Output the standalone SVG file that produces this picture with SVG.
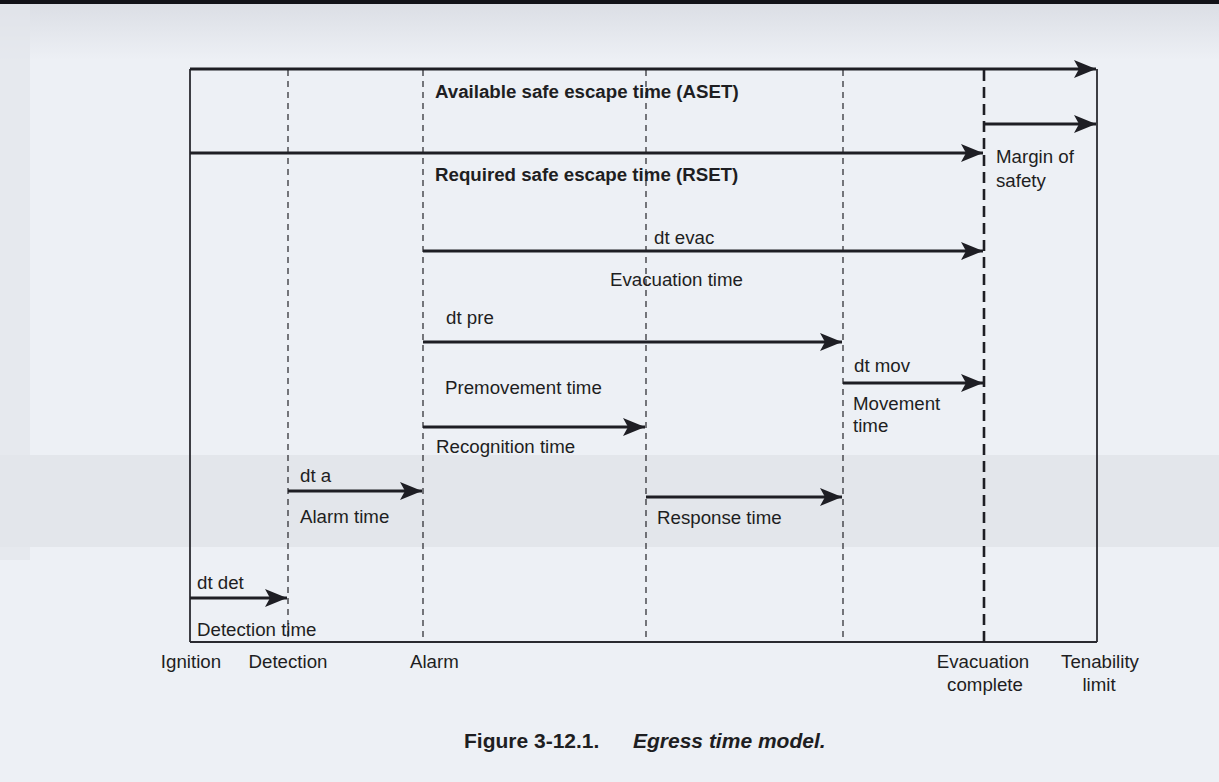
<svg xmlns="http://www.w3.org/2000/svg" width="1219" height="782" viewBox="0 0 1219 782">
<defs>
<marker id="ah" markerUnits="userSpaceOnUse" markerWidth="24" markerHeight="20" refX="22" refY="9" orient="auto">
<path d="M0,0 L22,9 L0,18 L5,9 z" fill="#1e1e24"/>
</marker>
<linearGradient id="topg" x1="0" y1="0" x2="0" y2="1">
<stop offset="0" stop-color="#dadde4"/>
<stop offset="1" stop-color="#edf0f5"/>
</linearGradient>
<style>
.t{font-family:"Liberation Sans",Arial,sans-serif;font-size:18.7px;fill:#1e1e22}
.b{font-weight:bold}
.cap{font-family:"Liberation Sans",Arial,sans-serif;font-size:21px;font-weight:bold;fill:#1e1e22}
.ar{stroke:#1e1e24;stroke-width:2.8;fill:none;marker-end:url(#ah)}
.bd{stroke:#2a2a30;stroke-width:1.8;fill:none}
.dl{stroke:#333338;stroke-width:1.3;stroke-dasharray:6 5;fill:none}
.dh{stroke:#1e1e24;stroke-width:2.6;stroke-dasharray:11 6;fill:none}
</style>
</defs>
<rect width="1219" height="782" fill="#edf0f5"/>
<rect x="0" y="0" width="1219" height="60" fill="url(#topg)"/>
<rect x="0" y="455" width="1219" height="92" fill="#e0e3e9" opacity="0.8"/>
<rect x="0" y="0" width="30" height="560" fill="#e2e5eb" opacity="0.7"/>
<rect x="0" y="0" width="1219" height="4" fill="#121218"/>

<g id="frame">
<line class="bd" x1="190" y1="69" x2="190" y2="642"/>
<line class="bd" x1="190" y1="642" x2="1097" y2="642"/>
<line class="bd" x1="1097" y1="69" x2="1097" y2="642"/>
</g>

<g id="milestones">
<g id="ignition"><text class="t" x="191" y="668" text-anchor="middle">Ignition</text></g>
<g id="detection"><line class="dl" x1="288" y1="70" x2="288" y2="642"/><text class="t" x="288" y="668" text-anchor="middle">Detection</text></g>
<g id="alarm"><line class="dl" x1="423" y1="70" x2="423" y2="642"/><text class="t" x="410" y="668">Alarm</text></g>
<g id="response-end"><line class="dl" x1="646" y1="70" x2="646" y2="642"/></g>
<g id="movement-start"><line class="dl" x1="843" y1="70" x2="843" y2="642"/></g>
<g id="evac-complete"><line class="dh" x1="984" y1="70" x2="984" y2="642"/><text class="t" x="983" y="668" text-anchor="middle">Evacuation</text><text class="t" x="985" y="691" text-anchor="middle">complete</text></g>
<g id="tenability"><text class="t" x="1100" y="668" text-anchor="middle">Tenability</text><text class="t" x="1099" y="691" text-anchor="middle">limit</text></g>
</g>

<g id="connectors">
<line class="ar" x1="190" y1="69" x2="1096" y2="69"/>
<line class="ar" x1="190" y1="153" x2="983" y2="153"/>
<line class="ar" x1="984" y1="124" x2="1096" y2="124"/>
<line class="ar" x1="423" y1="251" x2="983" y2="251"/>
<line class="ar" x1="423" y1="342" x2="842" y2="342"/>
<line class="ar" x1="843" y1="383" x2="983" y2="383"/>
<line class="ar" x1="423" y1="427" x2="645" y2="427"/>
<line class="ar" x1="288" y1="491" x2="422" y2="491"/>
<line class="ar" x1="646" y1="497" x2="842" y2="497"/>
<line class="ar" x1="190" y1="598" x2="287" y2="598"/>
</g>

<g id="labels">
<g id="aset"><text class="t b" x="435" y="98">Available safe escape time (ASET)</text></g>
<g id="rset"><text class="t b" x="435" y="181">Required safe escape time (RSET)</text></g>
<g id="margin"><text class="t" x="996" y="163">Margin of</text><text class="t" x="996" y="187">safety</text></g>
<g id="evac"><text class="t" x="654" y="244">dt evac</text><text class="t" x="610" y="286">Evacuation time</text></g>
<g id="pre"><text class="t" x="446" y="324">dt pre</text><text class="t" x="445" y="394">Premovement time</text></g>
<g id="mov"><text class="t" x="854" y="372">dt mov</text><text class="t" x="853" y="410">Movement</text><text class="t" x="853" y="432">time</text></g>
<g id="recognition"><text class="t" x="436" y="453">Recognition time</text></g>
<g id="alarmtime"><text class="t" x="300" y="482">dt a</text><text class="t" x="300" y="523">Alarm time</text></g>
<g id="response"><text class="t" x="657" y="524">Response time</text></g>
<g id="det"><text class="t" x="197" y="589">dt det</text><text class="t" x="197" y="636">Detection time</text></g>
</g>

<g id="caption">
<text class="cap" x="464" y="748">Figure 3-12.1.</text>
<text class="cap" x="633" y="748" font-style="italic">Egress time model.</text>
</g>
</svg>
